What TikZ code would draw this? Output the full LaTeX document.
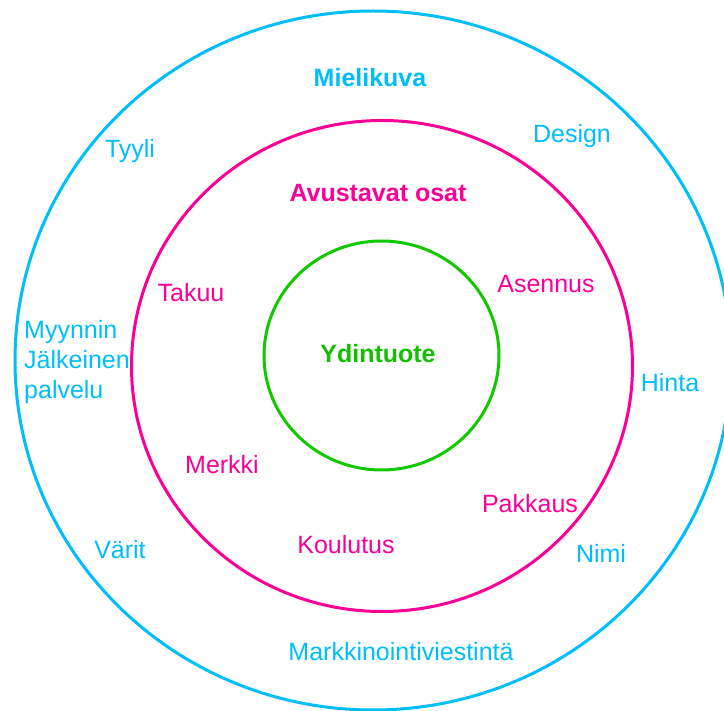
\documentclass[tikz,border=0pt]{standalone}
\usepackage{fontspec}
\setmainfont{Liberation Sans}
\usetikzlibrary{shapes.geometric}
\definecolor{skyc}{RGB}{0,190,250}
\definecolor{pinkc}{RGB}{250,0,150}
\definecolor{greenc}{RGB}{20,200,0}
\definecolor{greent}{RGB}{20,190,0}
\tikzset{
  ring/.style={draw, ellipse, line width=3pt, inner sep=0pt},
  lbl/.style={inner sep=0pt, font=\fontsize{25}{30}\selectfont},
  ttl/.style={lbl, font=\fontsize{25}{30}\selectfont\bfseries},
}
\begin{document}
\begin{tikzpicture}[x=1pt,y=-1pt]
\useasboundingbox (0,0) rectangle (724,711);
\clip (0,0) rectangle (724,711);
\fill[white] (0,0) rectangle (724,711);
% rings
\node[ring, draw=skyc, minimum width=716pt, minimum height=699pt] (outer) at (373,360.5) {};
\node[ring, draw=pinkc, minimum width=501pt, minimum height=491pt] (middle) at (382,366) {};
\node[ring, draw=greenc, minimum width=235pt, minimum height=229pt] (inner) at (381.5,355.5) {};
% titles
\node[ttl, text=skyc] (mielikuva) at (370,78) {Mielikuva};
\node[ttl, text=pinkc] (avustavat) at (378,193) {Avustavat osat};
\node[ttl, text=greent] (ydin) at (378,354) {Ydintuote};
% outer labels
\node[lbl, text=skyc] (tyyli) at (130,151) {Tyyli};
\node[lbl, text=skyc] (design) at (572,136) {Design};
\node[lbl, text=skyc, align=left, anchor=west] (myynnin) at (24,362) {Myynnin\\Jälkeinen\\palvelu};
\node[lbl, text=skyc] (hinta) at (670,383) {Hinta};
\node[lbl, text=skyc] (varit) at (120,550) {Värit};
\node[lbl, text=skyc] (nimi) at (601,553) {Nimi};
\node[lbl, text=skyc] (markk) at (401,652) {Markkinointiviestintä};
% middle labels
\node[lbl, text=pinkc] (takuu) at (191,293) {Takuu};
\node[lbl, text=pinkc] (asennus) at (546,284) {Asennus};
\node[lbl, text=pinkc] (merkki) at (222,465) {Merkki};
\node[lbl, text=pinkc] (pakkaus) at (530,504) {Pakkaus};
\node[lbl, text=pinkc] (koulutus) at (346,545) {Koulutus};
\end{tikzpicture}
\end{document}
